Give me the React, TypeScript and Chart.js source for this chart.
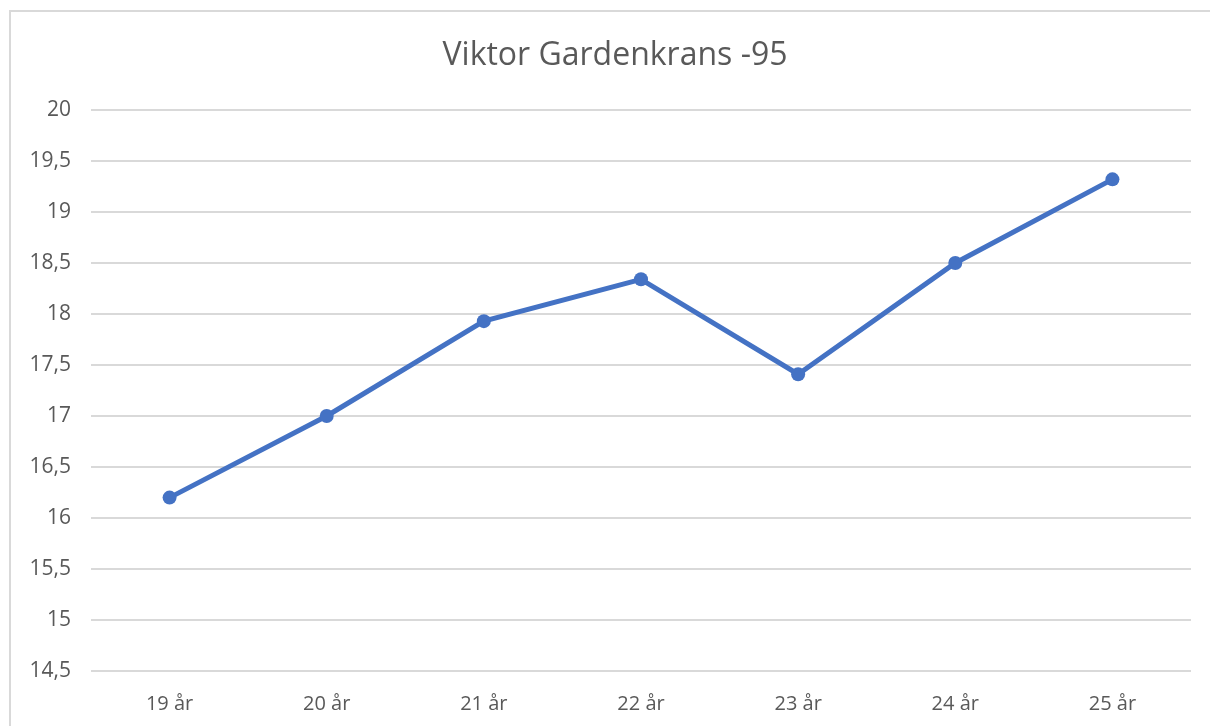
import React, { useEffect, useRef } from "react";
import { Chart, registerables } from "chart.js";

Chart.register(...registerables);

const title = "Viktor Gardenkrans -95";
const categories = ["19 år", "20 år", "21 år", "22 år", "23 år", "24 år", "25 år"];
const values = [16.2, 17.0, 17.93, 18.34, 17.41, 18.5, 19.32];
const yMin = 14.5;
const yMax = 20;
const yStep = 0.5;

const FONT = "'Open Sans', 'Noto Sans', sans-serif";
const TEXT = "#595959";
const GRID = "#d9d9d9";
const LINE = "#4472C4";

const centerTitle = {
  id: "centerTitle",
  afterLayout(chart: any) {
    const t = chart.titleBlock;
    if (t) {
      t.left = 39;
      t.right = 1191;
    }
  },
};

export default function App() {
  const ref = useRef<HTMLCanvasElement | null>(null);

  useEffect(() => {
    if (!ref.current) return;
    const chart = new Chart(ref.current, {
      type: "line",
      data: {
        labels: categories,
        datasets: [
          {
            data: values,
            borderColor: LINE,
            backgroundColor: LINE,
            borderWidth: 5,
            pointRadius: 7,
            pointBackgroundColor: LINE,
            pointBorderColor: LINE,
            pointBorderWidth: 0,
            tension: 0,
            fill: false,
          },
        ],
      },
      plugins: [centerTitle],
      options: {
        animation: false,
        responsive: false,
        maintainAspectRatio: false,
        layout: { padding: { left: 0, right: 19, top: 0, bottom: 0 } },
        plugins: {
          legend: { display: false },
          tooltip: { enabled: false },
          title: {
            display: true,
            text: title,
            color: TEXT,
            font: { family: FONT, size: 32, weight: "normal", lineHeight: 1.2 },
            padding: { top: 37, bottom: 34.6 },
          },
        },
        scales: {
          x: {
            offset: true,
            grid: { display: false, drawTicks: false },
            border: { display: false },
            ticks: {
              color: TEXT,
              font: { family: FONT, size: 20, lineHeight: 1.2 },
              padding: 21,
              maxRotation: 0,
            },
            afterFit: (scale: any) => {
              scale.height = 55;
            },
          },
          y: {
            min: yMin,
            max: yMax,
            grid: { color: GRID, lineWidth: 2, drawTicks: false },
            border: { display: false },
            ticks: {
              stepSize: yStep,
              color: TEXT,
              font: { family: FONT, size: 21 },
              padding: 20,
              callback: (v: any) => String(v).replace(".", ","),
            },
            afterFit: (scale: any) => {
              scale.width = 91;
            },
          },
        },
      },
    });
    return () => chart.destroy();
  }, []);

  return (
    <div style={{ position: "fixed", left: 0, top: 0, width: 1210, height: 726, background: "#fff", overflow: "hidden" }}>
      <div
        style={{
          position: "absolute",
          left: 9,
          top: 10,
          width: 1300,
          height: 800,
          borderLeft: `2px solid ${GRID}`,
          borderTop: `2px solid ${GRID}`,
        }}
      />
      <canvas ref={ref} width={1210} height={726} style={{ position: "absolute", left: 0, top: 0 }} />
    </div>
  );
}
